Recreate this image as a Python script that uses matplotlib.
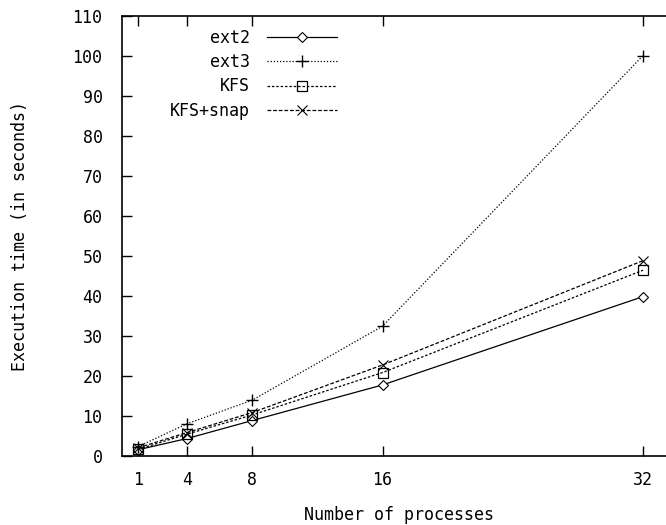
import matplotlib
matplotlib.use("Agg")
import matplotlib.pyplot as plt

# execution time (s) vs number of processes
procs = [1, 4, 8, 16, 32]
ext2 = [1.5, 4.3, 8.8, 17.7, 39.8]
ext3 = [2.3, 8.0, 13.9, 32.4, 100.1]
kfs = [1.6, 5.4, 10.2, 20.8, 46.4]
kfs_snap = [2.0, 5.8, 10.8, 22.7, 48.8]

xticks = [1, 4, 8, 16, 32]
yticks = list(range(0, 111, 10))

plt.rcParams["font.family"] = ["DejaVu Sans Mono"]

W, H = 666, 525
fig = plt.figure(figsize=(W / 100, H / 100), dpi=100)
ax = fig.add_axes([122 / W, (H - 455.7) / H, 553.6 / W, (455.7 - 16) / H])

ax.plot(procs, ext2, color="black", lw=0.9, ls="-", marker="D", ms=5.5,
        mfc="white", mew=0.8, label="ext2")
ax.plot(procs, ext3, color="black", lw=0.9, ls=(0, (1, 1.5)), marker="+",
        ms=9, mew=1.0, label="ext3")
ax.plot(procs, kfs, color="black", lw=0.9, ls=(0, (2, 1.5)), marker="s",
        ms=6.5, mfc="none", mew=0.9, label="KFS")
ax.plot(procs, kfs_snap, color="black", lw=0.9, ls=(0, (3, 1.5)), marker="x",
        ms=6.5, mew=0.8, label="KFS+snap")

ax.set_xlim(0, 34)
ax.set_ylim(0, 110)
ax.set_xticks(xticks)
ax.set_yticks(yticks)
ax.tick_params(direction="in", length=7, width=1, top=True, right=True,
               labelsize=12, colors="black")
ax.tick_params(axis="y", pad=14)
ax.tick_params(axis="x", pad=11)
for s in ax.spines.values():
    s.set_linewidth(1.2)

ax.set_xlabel("Number of processes", fontsize=12, labelpad=12)
ax.set_ylabel("Execution time (in seconds)", fontsize=12, labelpad=31)

leg = ax.legend(loc="upper left", bbox_to_anchor=(0.0746, 0.986),
                frameon=False, markerfirst=False, fontsize=12,
                handlelength=4.2, handletextpad=1.0, labelspacing=0.38,
                borderaxespad=0.0)

fig.savefig("out.png", dpi=100)
